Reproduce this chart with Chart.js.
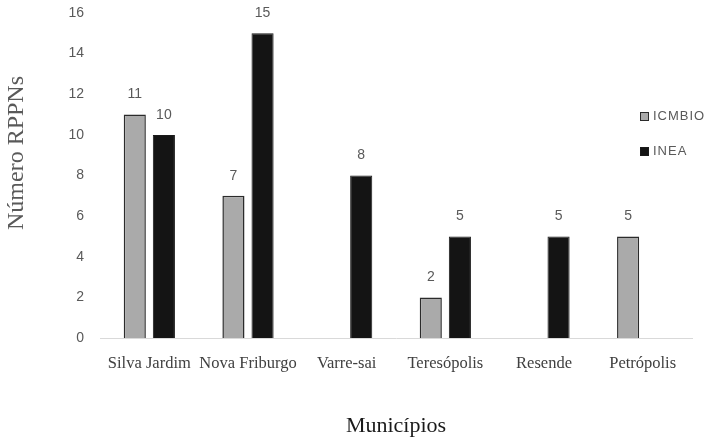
<!DOCTYPE html>
<html>
<head>
<meta charset="utf-8">
<script src="https://cdn.jsdelivr.net/npm/chart.js@4.4.1/dist/chart.umd.min.js"></script>
<style>
  html, body { margin: 0; padding: 0; background: #ffffff; }
  #wrap { width: 705px; height: 438px; }
</style>
</head>
<body>
<div id="wrap"><canvas id="c" width="705" height="438"></canvas></div>
<script>
// Municipalities and number of RPPNs per managing body
const categories = ['Silva Jardim', 'Nova Friburgo', 'Varre-sai', 'Teresópolis', 'Resende', 'Petrópolis'];
const icmbioValues = [11, 7, null, 2, null, 5];
const ineaValues = [10, 15, 8, 5, 5, null];
const seriesNames = ['ICMBIO', 'INEA'];
const yAxisTitle = 'Número RPPNs';
const xAxisTitle = 'Municípios';

// Value written above each bar
const valueLabels = {
  id: 'valueLabels',
  afterDatasetsDraw(chart) {
    const ctx = chart.ctx;
    ctx.save();
    ctx.font = '14px "Liberation Sans", Arial, sans-serif';
    ctx.fillStyle = '#595959';
    ctx.textAlign = 'center';
    ctx.textBaseline = 'middle';
    chart.data.datasets.forEach((ds, di) => {
      const meta = chart.getDatasetMeta(di);
      meta.data.forEach((bar, i) => {
        const v = ds.data[i];
        if (v === null || v === undefined) return;
        ctx.fillText(String(v), bar.x, bar.y - 20);
      });
    });
    ctx.restore();
  }
};

// Rotated title on the left side
const yTitle = {
  id: 'yTitle',
  afterDraw(chart) {
    const ctx = chart.ctx;
    const area = chart.chartArea;
    ctx.save();
    ctx.translate(area.left - 83, area.top + 140);
    ctx.rotate(-Math.PI / 2);
    ctx.font = '24px "Liberation Serif", "Times New Roman", serif';
    ctx.fillStyle = '#595959';
    ctx.textAlign = 'center';
    ctx.textBaseline = 'middle';
    ctx.fillText(yAxisTitle, 0, 0);
    ctx.restore();
  }
};

// Small legend inside the plot, on the right
const sideLegend = {
  id: 'sideLegend',
  afterDraw(chart) {
    const ctx = chart.ctx;
    const area = chart.chartArea;
    const x0 = area.right - 52;
    const y0 = area.top + 103.5;
    ctx.save();
    ctx.font = '13px "Liberation Sans", Arial, sans-serif';
    if ('letterSpacing' in ctx) ctx.letterSpacing = '1px';
    ctx.textBaseline = 'middle';
    ctx.textAlign = 'left';
    chart.data.datasets.forEach((ds, di) => {
      const y = y0 + di * 35;
      ctx.fillStyle = ds.backgroundColor;
      ctx.fillRect(x0, y - 4.5, 9, 9);
      ctx.strokeStyle = ds.borderColor;
      ctx.lineWidth = 1;
      ctx.strokeRect(x0 + 0.5, y - 4, 8, 8);
      ctx.fillStyle = '#595959';
      ctx.fillText(ds.label, x0 + 13, y);
    });
    ctx.restore();
  }
};

new Chart(document.getElementById('c'), {
  type: 'bar',
  data: {
    labels: categories,
    datasets: [
      {
        label: seriesNames[0],
        data: icmbioValues,
        backgroundColor: '#aaaaaa',
        borderColor: '#2b2b2b',
        borderWidth: 1.5,
        categoryPercentage: 0.59,
        barPercentage: 0.76
      },
      {
        label: seriesNames[1],
        data: ineaValues,
        backgroundColor: '#141414',
        borderColor: '#1a1a1a',
        borderWidth: 1,
        categoryPercentage: 0.59,
        barPercentage: 0.76
      }
    ]
  },
  options: {
    responsive: false,
    devicePixelRatio: 1,
    animation: false,
    layout: { padding: { left: 0, right: 13, top: 13, bottom: 0 } },
    plugins: {
      legend: { display: false },
      tooltip: { enabled: false }
    },
    scales: {
      x: {
        grid: { display: false, drawTicks: false },
        border: { display: true, color: '#d9d9d9', width: 1 },
        ticks: {
          color: '#404040',
          font: { family: '"Liberation Serif", "Times New Roman", serif', size: 16.5 },
          padding: 16,
          maxRotation: 0,
          autoSkip: false
        },
        title: {
          display: true,
          text: xAxisTitle,
          color: '#1a1a1a',
          font: { family: '"Liberation Serif", "Times New Roman", serif', size: 22 },
          padding: { top: 0, bottom: -1 }
        },
        afterFit(scale) { scale.height = 100; }
      },
      y: {
        min: 0,
        max: 16,
        ticks: {
          stepSize: 2,
          color: '#595959',
          font: { family: '"Liberation Sans", Arial, sans-serif', size: 14 },
          padding: 16
        },
        grid: { display: false, drawTicks: false },
        border: { display: false },
        afterFit(scale) {
          scale.width = 100;
          scale.paddingTop = 0;
          scale.paddingBottom = 0;
        }
      }
    }
  },
  plugins: [valueLabels, yTitle, sideLegend]
});
</script>
</body>
</html>
